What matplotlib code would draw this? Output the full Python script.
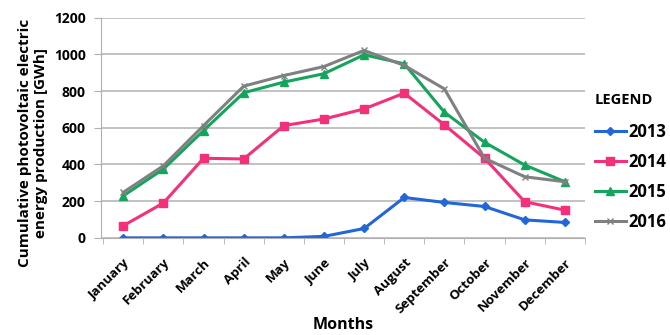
import matplotlib.pyplot as plt

months = ["January", "February", "March", "April", "May", "June", "July",
          "August", "September", "October", "November", "December"]
y2013 = [0, 0, 0, 0, 0, 8, 51, 220, 193, 171, 98, 84]
y2014 = [66, 190, 434, 430, 612, 648, 703, 789, 616, 434, 197, 151]
y2015 = [229, 375, 585, 791, 849, 895, 998, 949, 685, 521, 397, 306]
y2016 = [248, 393, 612, 827, 885, 934, 1022, 940, 812, 434, 333, 306]

plt.rcParams['font.family'] = ['Open Sans', 'DejaVu Sans']
plt.rcParams['font.weight'] = 'bold'

fig = plt.figure(figsize=(6.7, 3.35), dpi=100)
ax = fig.add_axes([0.151, 0.29, 0.722, 0.657])

x = range(len(months))
ax.plot(x, y2013, color='#2266d8', marker='D', ms=4, lw=2.2, label='2013')
ax.plot(x, y2014, color='#f5307a', marker='s', ms=6, lw=2.2, label='2014')
ax.plot(x, y2015, color='#14a55c', marker='^', ms=6, lw=2.2, label='2015')
ax.plot(x, y2016, color='#808080', marker='x', ms=5, lw=2.2, label='2016')

ax.set_xlim(-0.55, 11.45)
ax.set_ylim(0, 1200)
ax.set_yticks(range(0, 1201, 200))
ax.set_xticks(list(x))
ax.set_xticklabels(months, rotation=45, ha='right', rotation_mode='anchor', fontsize=9.5)
ax.set_xticks([i + 0.5 for i in range(-1, 12)], minor=True)
ax.tick_params(axis='x', which='major', length=0, pad=13)
ax.tick_params(axis='x', which='minor', length=4, color='#b0b0b0')
ax.tick_params(axis='y', length=5, color='#b0b0b0', labelsize=10, pad=6)
ax.grid(axis='y', color='#b8b8b8', lw=1.2)
ax.set_axisbelow(True)
for s in ['top', 'right']:
    ax.spines[s].set_visible(False)
for s in ['left', 'bottom']:
    ax.spines[s].set_color('#b0b0b0')

ax.set_ylabel('Cumulative photovoltaic electric\nenergy production [GWh]', fontsize=11, fontweight='bold')
ax.set_xlabel('Months', fontsize=11.5, fontweight='bold', va='center')
ax.xaxis.set_label_coords(0.5, -0.395)
ax.yaxis.set_label_coords(-0.11, 0.43)

leg = ax.legend(title='LEGEND', loc='center left', bbox_to_anchor=(1.02, 0.345),
                frameon=False, fontsize=12, handlelength=1.9, labelspacing=0.72,
                handletextpad=0.1, borderaxespad=0, borderpad=0)
leg.get_title().set_fontweight('bold')
leg.get_title().set_fontsize(10.5)
leg._legend_box.align = 'left'
leg._legend_box.sep = 12

plt.savefig('out.png', dpi=100)
